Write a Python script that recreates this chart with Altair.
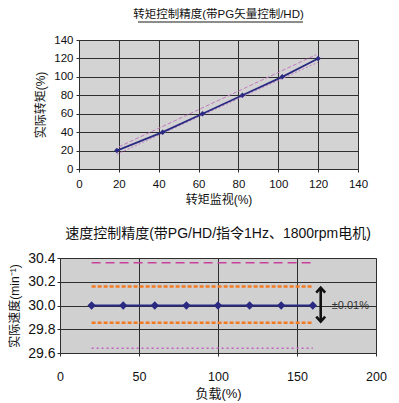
import altair as alt
import pandas as pd

FONT = "'Liberation Sans', 'Noto Sans CJK SC', sans-serif"
GRID = "#2e2e2e"
NAVY = "#2a2a82"

# ---------------- top chart data ----------------
torque_title = "转矩控制精度(带PG矢量控制/HD)"
torque_monitor = [19, 42, 62, 82, 102, 120]
torque_actual = [20, 40, 60, 80, 100, 120]
tol_hi_x = [20, 119]
tol_hi_y = [24, 124]
tol_lo_x = [19, 120]
tol_lo_y = [16, 116]
torque_ticks = [0, 20, 40, 60, 80, 100, 120, 140]

# ---------------- bottom chart data ----------------
speed_title = "速度控制精度(带PG/HD/指令1Hz、1800rpm电机)"
load = [20, 40, 60, 80, 100, 120, 140, 160]
speed = [30.0, 30.0, 30.0, 30.0, 30.0, 30.0, 30.0, 30.0]
band_x = [20, 160]
orange_hi = [30.16, 30.16]
orange_lo = [29.855, 29.855]
pink_hi = [30.36, 30.36]
pink_lo = [29.64, 29.64]
arrow_x = [165]
arrow_top = [30.15]
arrow_bottom = [29.865]
note_x = [172]
note_y = [30.0]
note_text = ["±0.01%"]
load_ticks = [0, 50, 100, 150, 200]
speed_ticks = [29.6, 29.8, 30.0, 30.2, 30.4]

# ---------------- top chart ----------------
xt = alt.X("x:Q", scale=alt.Scale(domain=[0, 140], nice=False, zero=False),
           axis=alt.Axis(values=torque_ticks, title="转矩监视(%)", grid=True,
                         gridColor=GRID, gridOpacity=1, domainColor=GRID,
                         tickColor=GRID, tickSize=3, labelPadding=6,
                         labelFontSize=11.5, titleFontSize=12,
                         titleFontWeight="normal", titlePadding=5,
                         labelFlush=False, labelOverlap=False,
                         labelColor="#111", titleColor="#111"))
yt = alt.Y("y:Q", scale=alt.Scale(domain=[0, 140], nice=False, zero=False),
           axis=alt.Axis(values=torque_ticks, title="实际转矩(%)", grid=True,
                         gridColor=GRID, gridOpacity=1, domainColor=GRID,
                         tickColor=GRID, tickSize=3, labelPadding=3,
                         labelFontSize=11.5, titleFontSize=12,
                         titleFontWeight="normal", titlePadding=6,
                         labelFlush=False, labelOverlap=False,
                         labelColor="#111", titleColor="#111"))

df_t = pd.DataFrame({"x": torque_monitor, "y": torque_actual})
df_hi = pd.DataFrame({"x": tol_hi_x, "y": tol_hi_y})
df_lo = pd.DataFrame({"x": tol_lo_x, "y": tol_lo_y})

t_hi = alt.Chart(df_hi).mark_line(color="#c47ac0", strokeDash=[4, 2], strokeWidth=1).encode(x=xt, y=yt)
t_lo = alt.Chart(df_lo).mark_line(color="#c47ac0", strokeDash=[2, 2], strokeWidth=1).encode(x=xt, y=yt)
t_line = alt.Chart(df_t).mark_line(color=NAVY, strokeWidth=1.8).encode(x=xt, y=yt)
t_pts = alt.Chart(df_t).mark_point(shape="diamond", filled=True, color=NAVY, size=30, opacity=1).encode(x=xt, y=yt)
underline = alt.Chart(pd.DataFrame({"u": [0]})).mark_rule(color="#666", strokeWidth=1.6).encode(
    x=alt.value(59), x2=alt.value(224), y=alt.value(-18))

top = alt.layer(t_hi, t_lo, t_line, t_pts, underline).properties(
    width=279, height=129,
    title=alt.Title(torque_title, fontSize=11.5, fontWeight="normal", anchor="middle", offset=1, color="#111"),
    view=alt.ViewBackground(fill="#d3d3d3", stroke="#8a8a8a"),
)

spacer = alt.Chart(pd.DataFrame({"s": [0]})).mark_text(text=" ", opacity=0).encode(
    x=alt.value(0), y=alt.value(0)).properties(width=19, height=129)

top_row = alt.hconcat(spacer, top, spacing=0, bounds="flush")

# ---------------- bottom chart ----------------
xb = alt.X("x:Q", scale=alt.Scale(domain=[0, 200], nice=False, zero=False),
           axis=alt.Axis(values=load_ticks, title="负载(%)", grid=True,
                         gridColor=GRID, gridOpacity=1, domainColor=GRID,
                         tickColor=GRID, tickSize=3, labelPadding=14,
                         labelFontSize=12.5, titleFontSize=13,
                         titleFontWeight="normal", titlePadding=5,
                         labelFlush=False, labelOverlap=False,
                         labelColor="#111", titleColor="#111"))
yb = alt.Y("y:Q", scale=alt.Scale(domain=[29.6, 30.4], nice=False, zero=False),
           axis=alt.Axis(values=speed_ticks, format=".1f", title="实际速度(min⁻¹)", grid=True,
                         gridColor=GRID, gridOpacity=1, domainColor=GRID,
                         tickColor=GRID, tickSize=3, labelPadding=2,
                         labelFontSize=14, titleFontSize=12,
                         titleFontWeight="normal", titlePadding=6,
                         labelFlush=False, labelOverlap=False,
                         labelColor="#111", titleColor="#111"))

df_s = pd.DataFrame({"x": load, "y": speed})
b_ohi = alt.Chart(pd.DataFrame({"x": band_x, "y": orange_hi})).mark_line(
    color="#f47a22", strokeDash=[4, 2], strokeWidth=2.5).encode(x=xb, y=yb)
b_olo = alt.Chart(pd.DataFrame({"x": band_x, "y": orange_lo})).mark_line(
    color="#f47a22", strokeDash=[4, 2], strokeWidth=2.5).encode(x=xb, y=yb)
b_phi = alt.Chart(pd.DataFrame({"x": band_x, "y": pink_hi})).mark_line(
    color="#c8409c", strokeDash=[9, 5], strokeWidth=1.5).encode(x=xb, y=yb)
b_plo = alt.Chart(pd.DataFrame({"x": band_x, "y": pink_lo})).mark_line(
    color="#c060c0", strokeDash=[2, 3], strokeWidth=1.5).encode(x=xb, y=yb)
b_line = alt.Chart(df_s).mark_line(color=NAVY, strokeWidth=2).encode(x=xb, y=yb)
b_pts = alt.Chart(df_s).mark_point(shape="diamond", filled=True, color=NAVY, size=70, opacity=1).encode(x=xb, y=yb)

df_arrow = pd.DataFrame({"x": arrow_x, "y": arrow_top, "y2": arrow_bottom})
b_arrow = alt.Chart(df_arrow).mark_rule(color="#111", strokeWidth=2.6).encode(
    x=xb, y=yb, y2=alt.Y2("y2:Q"))
df_heads = pd.DataFrame({"x": arrow_x * 2, "y": arrow_top + arrow_bottom, "dir": ["up", "down"]})
b_heads = alt.Chart(df_heads).mark_point(filled=False, color="#111", strokeWidth=2.6, size=80, opacity=1).encode(
    x=xb, y=yb,
    shape=alt.Shape("dir:N", scale=alt.Scale(domain=["up", "down"],
                                             range=["M-1,1.1L0,0L1,1.1", "M-1,-1.1L0,0L1,-1.1"]),
                    legend=None))
df_note = pd.DataFrame({"x": note_x, "y": note_y, "t": note_text})
b_note = alt.Chart(df_note).mark_text(align="left", baseline="middle", fontSize=11, color="#333").encode(
    x=xb, y=yb, text="t:N")

bottom = alt.layer(b_phi, b_plo, b_ohi, b_olo, b_line, b_pts, b_arrow, b_heads, b_note).properties(
    width=316, height=95,
    title=alt.Title(speed_title, fontSize=14, fontWeight="normal", anchor="middle", offset=10, color="#111"),
    view=alt.ViewBackground(fill="#d0d0d0", stroke="#8a8a8a"),
)

chart = alt.vconcat(top_row, bottom, spacing=20).properties(
    padding={"left": 0, "top": 0, "right": 0, "bottom": 0}
).configure(font=FONT).configure_view(stroke=None)

chart.save("out.html", embed_options={"renderer": "svg", "actions": False})
